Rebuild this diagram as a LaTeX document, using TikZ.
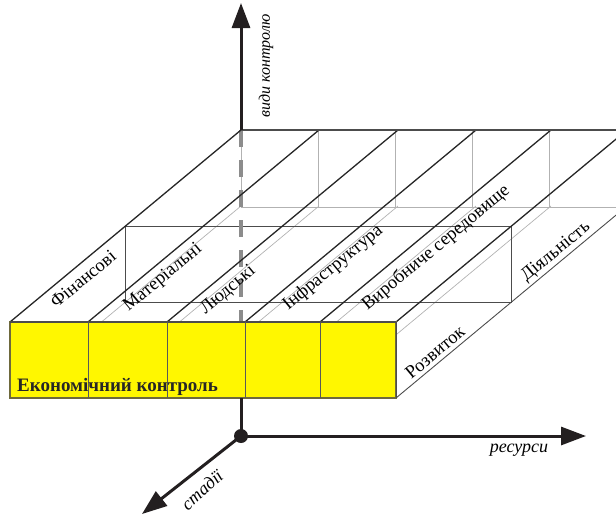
\documentclass[tikz,border=0pt]{standalone}
\usepackage{fontspec}
\setmainfont{Liberation Serif}
\usepackage{xcolor}
\usetikzlibrary{arrows.meta}
\definecolor{axisblack}{RGB}{35,31,32}
\definecolor{faceyellow}{RGB}{255,247,0}
\definecolor{edgeolive}{RGB}{110,105,60}

\begin{document}
\begin{tikzpicture}[x=1pt, y=-1pt, every node/.style={inner sep=0pt},
    axis/.style={line width=3pt, draw=axisblack},
    axtip/.style={-{Triangle[length=25pt, width=18pt]}},
    topline/.style={line width=1.3pt, draw=black!85},
    thinline/.style={line width=0.9pt, draw=black!70},
    hidden/.style={line width=0.7pt, draw=black!30},
    lbl/.style={font=\fontsize{18.5}{20}\selectfont, rotate=39.7},
    axlbl/.style={font=\fontsize{18}{20}\selectfont\itshape}]
    \useasboundingbox (0,0) rectangle (616,515);
    \clip (0,0) rectangle (616,515);

    \coordinate (O) at (241,436);
    \coordinate (B) at (241,130);
    \coordinate (F) at (241,322);
    \coordinate (G) at (241,398);
    \coordinate (top) at (241,3);
    \coordinate (right) at (586,436);
    \coordinate (down) at (142,514);

    % back plane
    \foreach \x in {241,318.2,395.4,472.6,549.8,627} {
        \draw[hidden] (\x,130) -- (\x,207);
    }
    \draw[hidden] (241,207) -- (627,207);

    % hidden bottom edges
    \foreach \x in {10,88,167,245,320} {
        \draw[hidden] (\x,398) -- (\x+231,206);
    }

    % middle plane
    \draw[thinline] (125.5,226) rectangle (511.5,302);

    \draw[line width=4pt, draw=black!45, dash pattern=on 17pt off 13pt] (B) -- (F);

    % top face
    \foreach \x in {10,88,167,245,320,396} {
        \draw[topline] (\x,322) -- (\x+231,130);
    }
    \draw[line width=2.5pt, draw=black!70] (B) -- (640,130);
    \draw[thinline] (396,398) -- (627,206);

    % front face
    \filldraw[fill=faceyellow, draw=edgeolive, line width=1.2pt] (10,322) rectangle (396,398);
    \draw[line width=1.3pt, draw=black!70] (10,322) -- (396,322);
    \draw[thinline] (396,322) -- (396,398);
    \foreach \x in {88,167,245,320} {
        \draw[line width=0.9pt, draw=black!65] (\x,322) -- (\x,398);
    }

    \foreach \n/\x/\y/\t in {fin/83/279/Фінансові, mat/163/278/Матеріальні,
        lud/228/290/Людські, inf/333/268/Інфраструктура,
        vyr/436/248/Виробниче середовище, diy/556/252/Діяльність,
        roz/435/352/Розвиток} {
        \node[lbl] (\n) at (\x,\y) {\t};
    }
    \node[font=\fontsize{19}{21}\selectfont\bfseries, anchor=base west, text=black!85] (ekon) at (17,391) {Економічний контроль};

    % axes
    \draw[axis] (G) -- (O);
    \draw[axis, axtip] (B) -- (top);
    \draw[axis, axtip] (O) -- (right);
    \draw[axis, axtip] (O) -- (down);
    \fill[axisblack] (O) circle (7pt);

    \node[axlbl, rotate=90, font=\fontsize{16}{18}\selectfont\itshape] (vydy) at (266,66) {види контролю};
    \node[axlbl] (res) at (519,450) {ресурси};
    \node[axlbl, rotate=42] (stad) at (202,490) {стадії};
\end{tikzpicture}
\end{document}
